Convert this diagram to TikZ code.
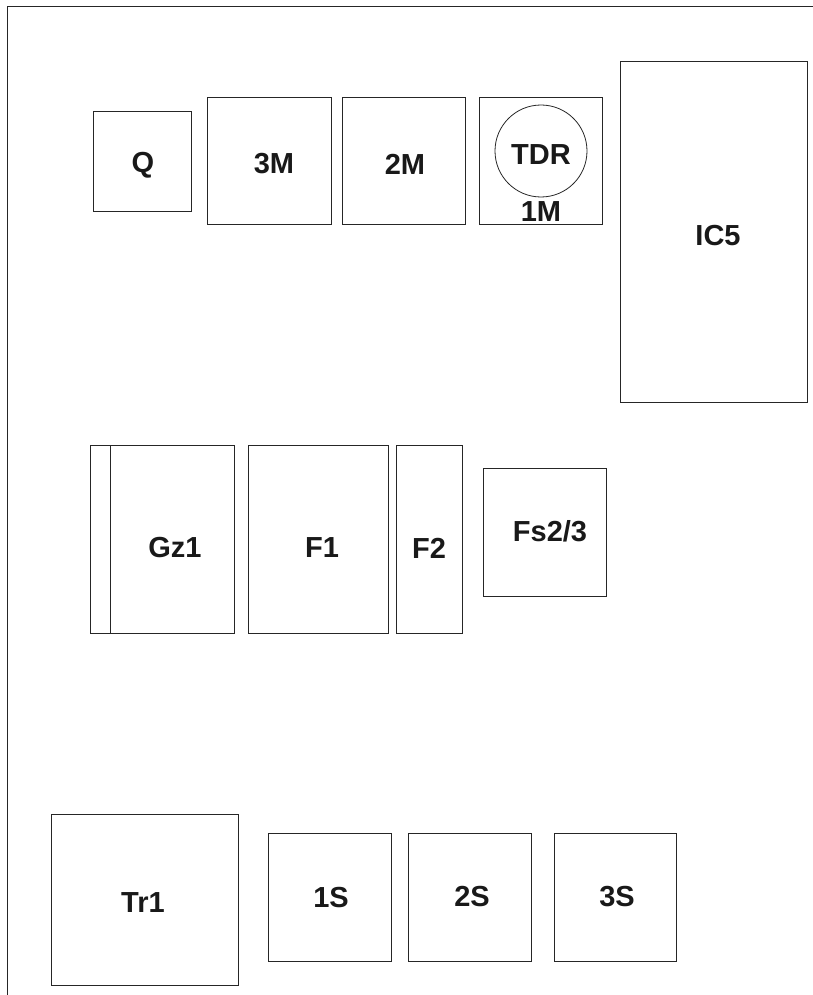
\documentclass[tikz,border=0pt]{standalone}
\usepackage{fontspec}
\setmainfont{Liberation Sans}
\begin{document}
\begin{tikzpicture}[x=1pt, y=-1pt, line width=0.8pt, draw=black!85,
		lbl/.style={font=\fontsize{29}{29}\selectfont\bfseries, inner sep=0pt, text=black!90}]
		\useasboundingbox (0,0) rectangle (813,995);
		\draw (813,6) -- (7,6) -- (7,995);
		% obere Reihe
		\draw (93,111) rectangle (191,211); \node[lbl] (q) at (143,165) {Q};
		\draw (207,97) rectangle (331,224); \node[lbl] (m3) at (274,164) {3M};
		\draw (342,97) rectangle (465,224); \node[lbl] (m2) at (405,164) {2M};
		\draw (479,97) rectangle (602,224); \node[lbl] (m1) at (541,212) {1M};
		\draw (541,151) circle (46pt); \node[lbl] (tdr) at (541,155) {TDR};
		\draw (620,61) rectangle (807,402); \node[lbl] (ic5) at (718,236) {IC5};
		% mittlere Reihe
		\draw (90,445) rectangle (234,633); \draw (110,445) -- (110,633);
		\node[lbl] (gz1) at (175,548) {Gz1};
		\draw (248,445) rectangle (388,633); \node[lbl] (f1) at (322,548) {F1};
		\draw (396,445) rectangle (462,633); \node[lbl] (f2) at (429,548) {F2};
		\draw (483,468) rectangle (606,596); \node[lbl] (fs) at (550,531) {Fs2/3};
		% untere Reihe
		\draw (51,814) rectangle (238,985); \node[lbl] (tr1) at (143,903) {Tr1};
		\draw (268,833) rectangle (391,961); \node[lbl] (s1) at (331,898) {1S};
		\draw (408,833) rectangle (531,961); \node[lbl] (s2) at (472,897) {2S};
		\draw (554,833) rectangle (676,961); \node[lbl] (s3) at (617,897) {3S};
\end{tikzpicture}
\end{document}
